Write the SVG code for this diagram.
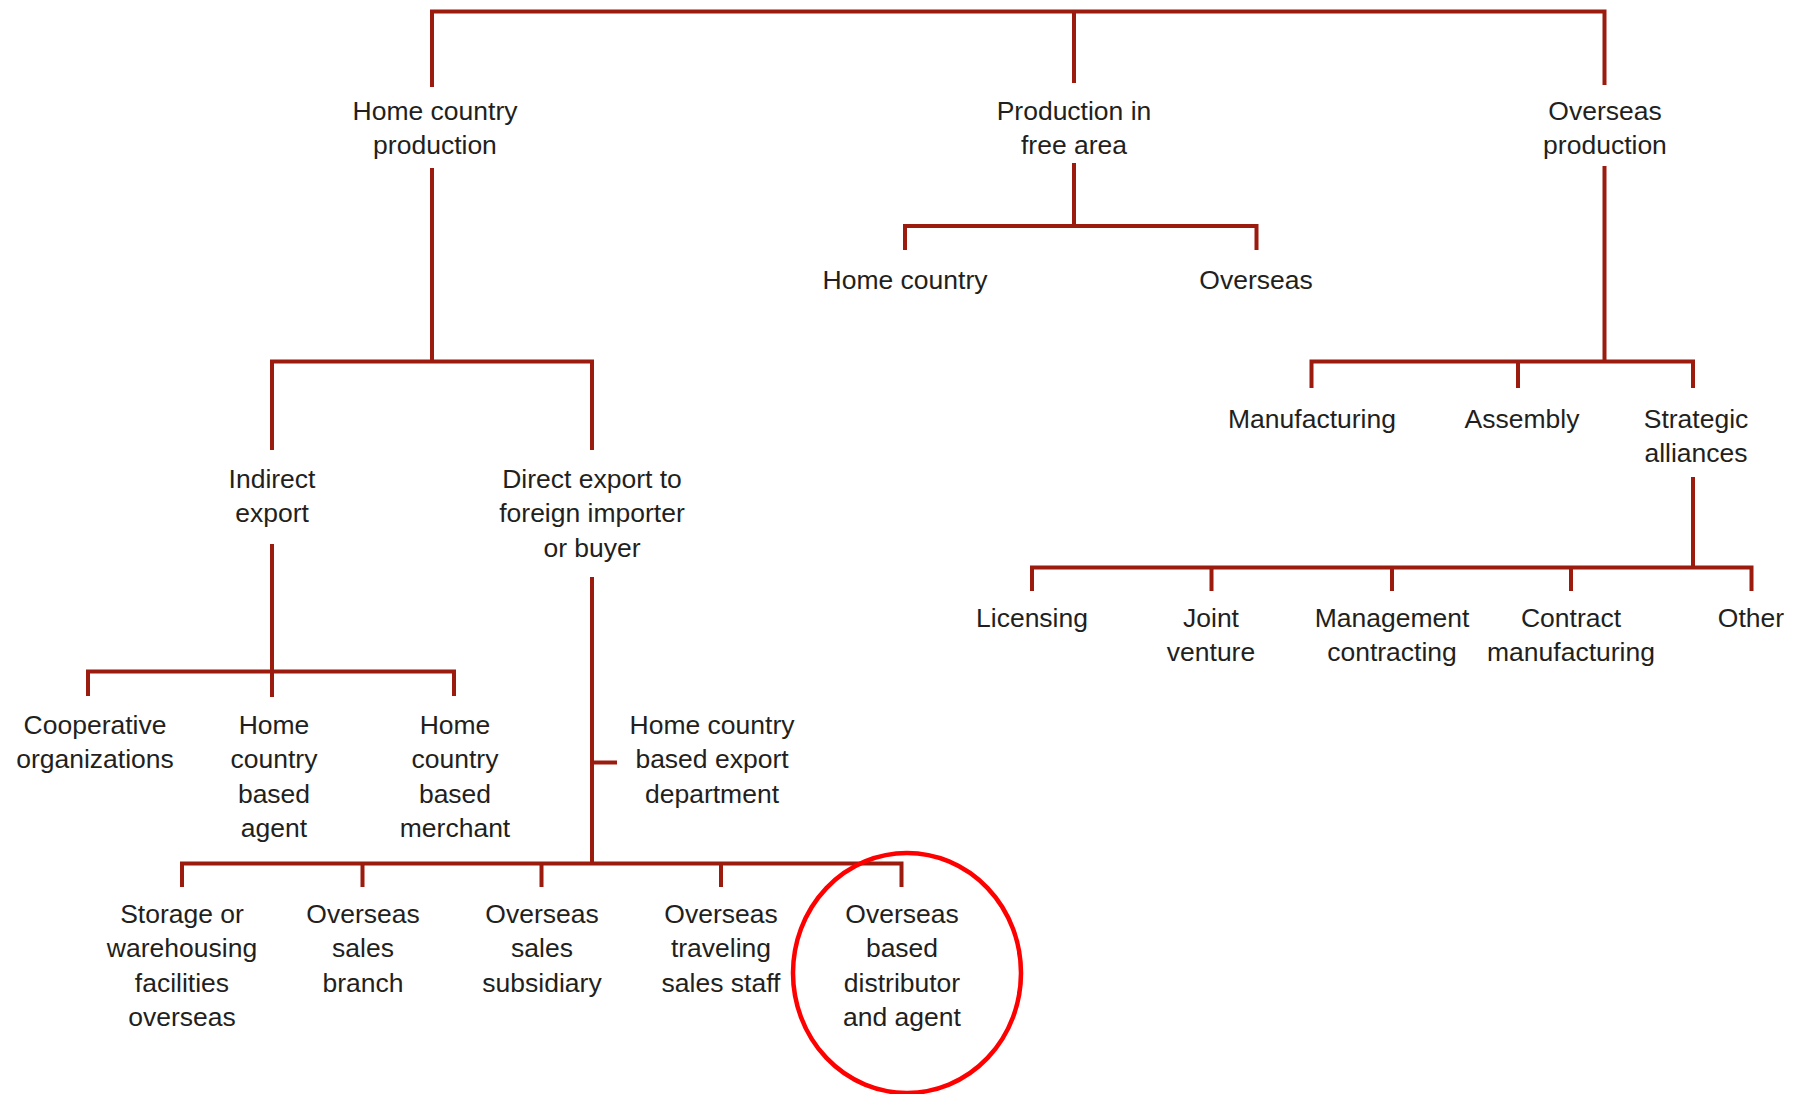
<svg xmlns="http://www.w3.org/2000/svg" width="1801" height="1094" viewBox="0 0 1801 1094">
  <style>
    .lbl { font-family: "Liberation Sans", Arial, sans-serif; font-size: 26.5px; fill: #231f20; text-anchor: middle; }
    .wire { fill: none; stroke: #9b1c0f; stroke-width: 4; stroke-linejoin: miter; stroke-linecap: butt; }
    .mark { fill: none; stroke: #ff0000; stroke-width: 4.5; }
  </style>
  <rect width="1801" height="1094" fill="#ffffff"/>

  <!-- tree connectors -->
  <g id="connectors">
    <!-- root bar -->
    <path class="wire" d="M432,87 V11.5 H1604.5 V85"/>
    <path class="wire" d="M1074,11.5 V83"/>
    <!-- home country production -->
    <path class="wire" d="M432,168 V361.5"/>
    <path class="wire" d="M272,450 V361.5 H592 V450"/>
    <!-- production in free area -->
    <path class="wire" d="M1074,163 V226"/>
    <path class="wire" d="M905,250 V226 H1256.5 V250"/>
    <!-- overseas production -->
    <path class="wire" d="M1604.5,166 V361.5"/>
    <path class="wire" d="M1311.5,388 V361.5 H1693 V388"/>
    <path class="wire" d="M1518,361.5 V388"/>
    <!-- strategic alliances -->
    <path class="wire" d="M1693,477 V567.5"/>
    <path class="wire" d="M1032,591 V567.5 H1751.5 V591"/>
    <path class="wire" d="M1211.5,567.5 V591 M1392,567.5 V591 M1571,567.5 V591"/>
    <!-- indirect export -->
    <path class="wire" d="M272,544 V697"/>
    <path class="wire" d="M88,696 V671.5 H454 V696"/>
    <!-- direct export -->
    <path class="wire" d="M592,577 V863.5"/>
    <path class="wire" d="M592,762.5 H617"/>
    <path class="wire" d="M182,887 V863.5 H901.5 V887"/>
    <path class="wire" d="M362.5,863.5 V887 M541.5,863.5 V887 M721,863.5 V887"/>
  </g>

  <g id="labels" transform="translate(0,-1.5)">
    <!-- level 1 -->
    <g id="home-country-production">
      <text class="lbl"><tspan x="435" y="121">Home country</tspan><tspan x="435" y="155.5">production</tspan></text>
    </g>
    <g id="production-free-area">
      <text class="lbl"><tspan x="1074" y="121">Production in</tspan><tspan x="1074" y="155.5">free area</tspan></text>
    </g>
    <g id="overseas-production">
      <text class="lbl"><tspan x="1605" y="121">Overseas</tspan><tspan x="1605" y="155.5">production</tspan></text>
    </g>

    <!-- free area children -->
    <g id="free-home-country">
      <text class="lbl" x="905" y="290">Home country</text>
    </g>
    <g id="free-overseas">
      <text class="lbl" x="1256" y="290">Overseas</text>
    </g>

    <!-- home country production children -->
    <g id="indirect-export">
      <text class="lbl"><tspan x="272" y="489">Indirect</tspan><tspan x="272" y="523.5">export</tspan></text>
    </g>
    <g id="direct-export">
      <text class="lbl"><tspan x="592" y="489">Direct export to</tspan><tspan x="592" y="523.5">foreign importer</tspan><tspan x="592" y="558">or buyer</tspan></text>
    </g>

    <!-- overseas production children -->
    <g id="manufacturing">
      <text class="lbl" x="1312" y="429">Manufacturing</text>
    </g>
    <g id="assembly">
      <text class="lbl" x="1522" y="429">Assembly</text>
    </g>
    <g id="strategic-alliances">
      <text class="lbl"><tspan x="1696" y="429">Strategic</tspan><tspan x="1696" y="463.5">alliances</tspan></text>
    </g>

    <!-- strategic alliance types -->
    <g id="licensing">
      <text class="lbl" x="1032" y="628">Licensing</text>
    </g>
    <g id="joint-venture">
      <text class="lbl"><tspan x="1211" y="628">Joint</tspan><tspan x="1211" y="662.5">venture</tspan></text>
    </g>
    <g id="management-contracting">
      <text class="lbl"><tspan x="1392" y="628">Management</tspan><tspan x="1392" y="662.5">contracting</tspan></text>
    </g>
    <g id="contract-manufacturing">
      <text class="lbl"><tspan x="1571" y="628">Contract</tspan><tspan x="1571" y="662.5">manufacturing</tspan></text>
    </g>
    <g id="other">
      <text class="lbl" x="1751" y="628">Other</text>
    </g>

    <!-- indirect export options -->
    <g id="cooperative-organizations">
      <text class="lbl"><tspan x="95" y="735">Cooperative</tspan><tspan x="95" y="769.5">organizations</tspan></text>
    </g>
    <g id="home-based-agent">
      <text class="lbl"><tspan x="274" y="735">Home</tspan><tspan x="274" y="769.5">country</tspan><tspan x="274" y="804">based</tspan><tspan x="274" y="838.5">agent</tspan></text>
    </g>
    <g id="home-based-merchant">
      <text class="lbl"><tspan x="455" y="735">Home</tspan><tspan x="455" y="769.5">country</tspan><tspan x="455" y="804">based</tspan><tspan x="455" y="838.5">merchant</tspan></text>
    </g>

    <!-- direct export options -->
    <g id="export-department">
      <text class="lbl"><tspan x="712" y="735">Home country</tspan><tspan x="712" y="769.5">based export</tspan><tspan x="712" y="804">department</tspan></text>
    </g>
    <g id="storage-warehousing">
      <text class="lbl"><tspan x="182" y="924">Storage or</tspan><tspan x="182" y="958.5">warehousing</tspan><tspan x="182" y="993">facilities</tspan><tspan x="182" y="1027.5">overseas</tspan></text>
    </g>
    <g id="sales-branch">
      <text class="lbl"><tspan x="363" y="924">Overseas</tspan><tspan x="363" y="958.5">sales</tspan><tspan x="363" y="993">branch</tspan></text>
    </g>
    <g id="sales-subsidiary">
      <text class="lbl"><tspan x="542" y="924">Overseas</tspan><tspan x="542" y="958.5">sales</tspan><tspan x="542" y="993">subsidiary</tspan></text>
    </g>
    <g id="traveling-sales-staff">
      <text class="lbl"><tspan x="721" y="924">Overseas</tspan><tspan x="721" y="958.5">traveling</tspan><tspan x="721" y="993">sales staff</tspan></text>
    </g>
    <g id="distributor-agent">
      <text class="lbl"><tspan x="902" y="924">Overseas</tspan><tspan x="902" y="958.5">based</tspan><tspan x="902" y="993">distributor</tspan><tspan x="902" y="1027.5">and agent</tspan></text>
    </g>
  </g>

  <!-- highlight ring -->
  <ellipse class="mark" cx="907" cy="973" rx="114" ry="120"/>
</svg>
